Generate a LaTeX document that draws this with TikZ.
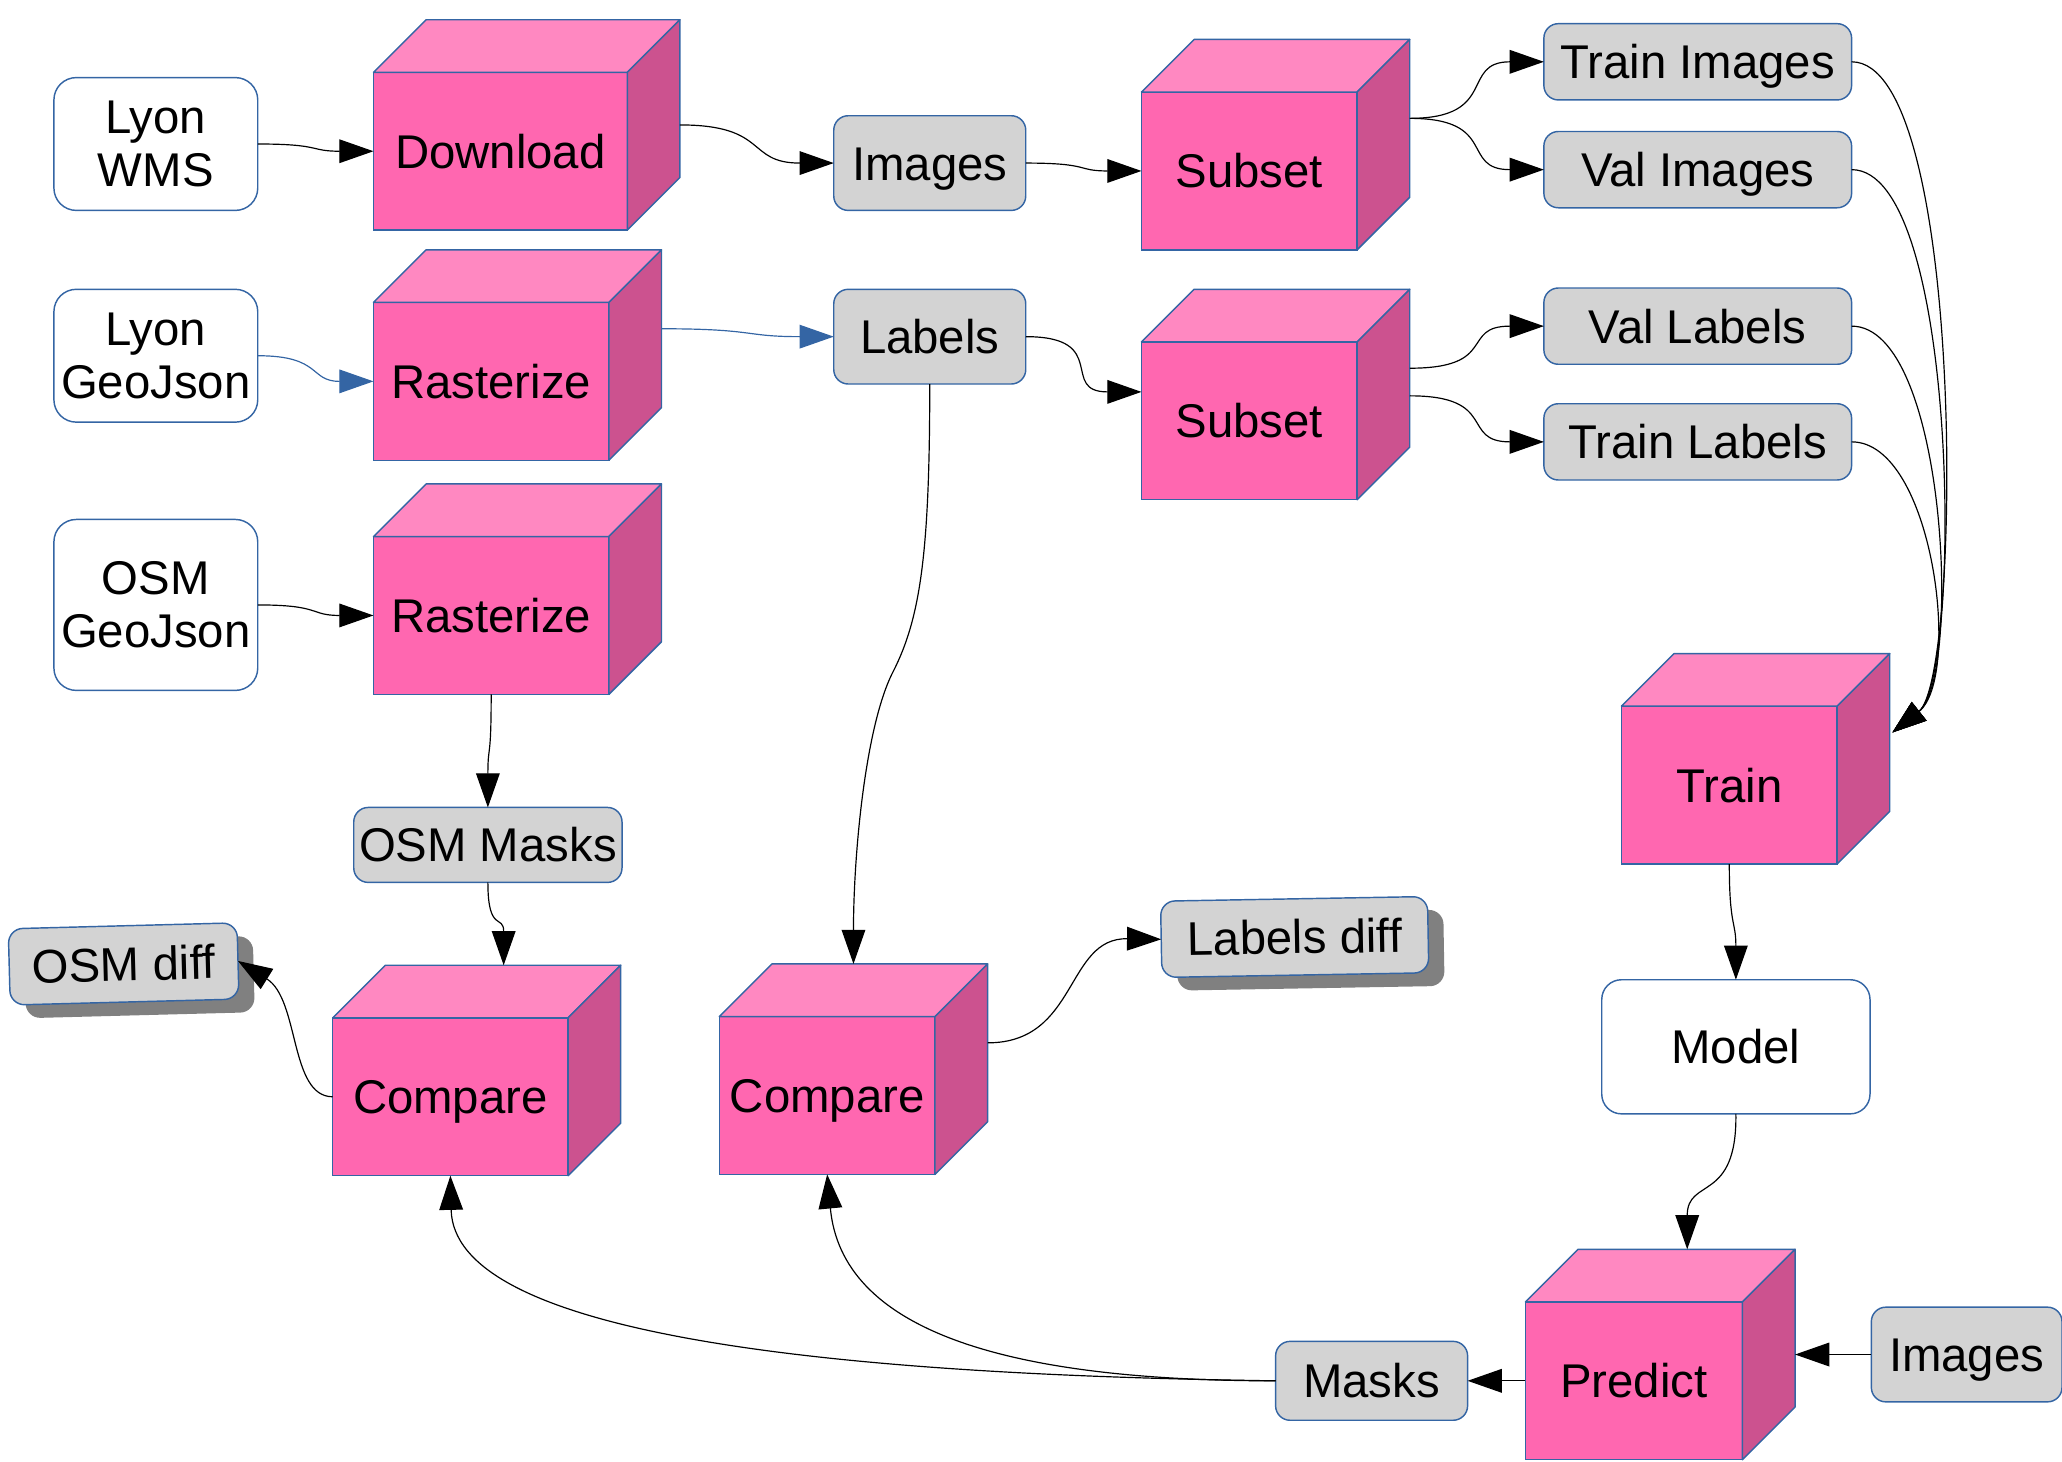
\documentclass[tikz,border=0pt]{standalone}
\usepackage{fontspec}
\setmainfont{Liberation Sans}
\usetikzlibrary{calc,arrows.meta,shadows}
\definecolor{cubefront}{HTML}{FF67B0}
\definecolor{cubetop}{HTML}{FF88C1}
\definecolor{cubeside}{HTML}{CC528F}
\definecolor{edgeblue}{HTML}{3465A4}
\definecolor{boxgray}{HTML}{D3D3D3}
\definecolor{shadowgray}{HTML}{808080}
\tikzset{
  base/.style={font=\fontsize{36}{40.5}\selectfont, inner sep=0pt, outer sep=0pt,
    align=center, line width=1.1pt, draw=edgeblue},
  oneline/.style={text height=25.8pt, text depth=0pt},
  cubebox/.style={base, oneline, fill=cubefront, minimum height=120pt},
  inbox/.style={base, fill=white, rounded corners=17pt},
  databox/.style={base, oneline, fill=boxgray, rounded corners=11pt},
  shadowed/.style={drop shadow={shadow xshift=12pt, shadow yshift=-10pt, fill=shadowgray, opacity=1}},
  conn/.style={line width=0.9pt, -{Triangle[length=26pt,width=18pt]}},
  bconn/.style={conn, draw=edgeblue},
  face/.style={draw=edgeblue, line width=1.1pt, line join=round},
}
\newcommand{\cubefaces}[1]{%
  \filldraw[face, fill=cubetop] (#1.north west) -- ++(40pt,40pt) -- ($(#1.north east)+(40pt,40pt)$) -- (#1.north east) -- cycle;
  \filldraw[face, fill=cubeside] (#1.north east) -- ++(40pt,40pt) -- ($(#1.south east)+(40pt,40pt)$) -- (#1.south east) -- cycle;}
\begin{document}
\begin{tikzpicture}[x=1pt, y=-1pt]
\useasboundingbox (0,0) rectangle (1568,1111);

% input boxes
\node[inbox, minimum width=155pt, minimum height=101pt] (wms) at (118.5,109.5) {Lyon\\WMS};
\node[inbox, minimum width=155pt, minimum height=101pt] (lgj) at (118.5,270.5) {Lyon\\GeoJson};
\node[inbox, minimum width=155pt, minimum height=130pt] (ogj) at (118.5,460) {OSM\\GeoJson};
\node[inbox, oneline, minimum width=204pt, minimum height=102pt, rounded corners=15pt] (model) at (1320,796) {Model};

% cubes
\node[cubebox, minimum width=193pt] (dl) at (380.5,115) {Download};
\node[cubebox, minimum width=179pt] (ras1) at (373.5,290) {Rasterize};
\node[cubebox, minimum width=179pt] (ras2) at (373.5,468) {Rasterize};
\node[cubebox, minimum width=164pt] (sub1) at (950,130) {Subset};
\node[cubebox, minimum width=164pt] (sub2) at (950,320) {Subset};
\node[cubebox, minimum width=164pt] (train) at (1315,597) {Train};
\node[cubebox, minimum width=179pt] (cmp1) at (342.5,834) {Compare};
\node[cubebox, minimum width=164pt] (cmp2) at (629,833) {Compare};
\node[cubebox, minimum width=165pt] (pred) at (1242.5,1050) {Predict};
\foreach \c in {dl,ras1,ras2,sub1,sub2,train,cmp1,cmp2,pred}{\cubefaces{\c}}

% data boxes
\node[databox, minimum width=146pt, minimum height=72pt] (img) at (707,124) {Images};
\node[databox, minimum width=146pt, minimum height=72pt] (lab) at (707,256) {Labels};
\node[databox, minimum width=234pt, minimum height=58pt] (ti) at (1291,47) {Train Images};
\node[databox, minimum width=234pt, minimum height=58pt] (vi) at (1291,129) {Val Images};
\node[databox, minimum width=234pt, minimum height=58pt] (vl) at (1291,248) {Val Labels};
\node[databox, minimum width=234pt, minimum height=58pt] (tl) at (1291,336) {Train Labels};
\node[databox, minimum width=204pt, minimum height=57pt] (om) at (371,642.5) {OSM Masks};
\node[databox, minimum width=146pt, minimum height=60pt] (masks) at (1043,1050) {Masks};
\node[databox, minimum width=145pt, minimum height=72pt] (img2) at (1495.5,1030) {Images};
\node[databox, shadowed, rotate=1.5, minimum width=174pt, minimum height=58pt] (od) at (94,733) {OSM diff};
\node[databox, shadowed, rotate=1, minimum width=203pt, minimum height=58pt] (ld) at (984.5,712.5) {Labels diff};

% connection points on cube faces
\coordinate (dlout) at ($(dl.north east)+(40pt,-40pt)$);
\coordinate (r1out) at ($(ras1.north east)+(40pt,-20pt)$);
\coordinate (s2in) at ($(sub2.west)+(0pt,22pt)$);
\coordinate (s1out) at ($(sub1.north east)+(40pt,-20pt)$);
\coordinate (s2a) at ($(sub2.north east)+(40pt,-20pt)$);
\coordinate (s2b) at ($(sub2.north east)+(40pt,-41pt)$);
\coordinate (trin) at ($(train.north east)+(42pt,-20pt)$);
\coordinate (c1in) at ($(cmp1.north west)+(130pt,40pt)$);
\coordinate (c2in) at ($(cmp2.north west)+(102pt,40pt)$);
\coordinate (c2out) at ($(cmp2.east)+(40pt,40pt)$);
\coordinate (pin) at ($(pred.north west)+(123pt,40pt)$);
\coordinate (pin2) at ($(pred.east)+(40pt,20pt)$);

% connectors
\draw[conn] (wms.east) .. controls (245,109.5) and (235,115) .. (dl.west);
\draw[bconn] (lgj.east) .. controls (245,270.5) and (235,290) .. (ras1.west);
\draw[conn] (ogj.east) .. controls (245,460) and (235,468) .. (ras2.west);
\draw[conn] (dlout) .. controls (585,95) and (567,124) .. (img.west);
\draw[bconn] (r1out) .. controls (575,250) and (565,256) .. (lab.west);
\draw[conn] (img.east) .. controls (830,124) and (818,130) .. (sub1.west);
\draw[conn] (lab.east) .. controls (845,256) and (805,298) .. (s2in);
\draw[conn] (s1out) .. controls (1140,90) and (1110,47) .. (ti.west);
\draw[conn] (s1out) .. controls (1140,90) and (1110,129) .. (vi.west);
\draw[conn] (s2a) .. controls (1140,280) and (1110,248) .. (vl.west);
\draw[conn] (s2b) .. controls (1140,301) and (1110,336) .. (tl.west);
\draw[conn] (ti.east) .. controls (1495,47) and (1492,515) .. (trin);
\draw[conn] (vi.east) .. controls (1490,129) and (1492,515) .. (trin);
\draw[conn] (vl.east) .. controls (1480,248) and (1492,515) .. (trin);
\draw[conn] (tl.east) .. controls (1470,336) and (1492,515) .. (trin);
\draw[conn] (ras2.south) .. controls (373.5,580) and (371,565) .. (om.north);
\draw[conn] (om.south) .. controls (371,710) and (383,695) .. (c1in);
\draw[conn] (lab.south) .. controls (707,420) and (700,470) .. (679,511) .. controls (658,552) and (649,650) .. (c2in);
\draw[conn] (cmp1.west) .. controls (220,834) and (228,760) .. (od.east);
\draw[conn] (c2out) .. controls (820,793) and (810,713) .. (ld.west);
\draw[conn] (train.south) .. controls (1315,705) and (1320,700) .. (model.north);
\draw[conn] (model.south) .. controls (1321,915) and (1283,895) .. (pin);
\draw[conn] (img2.west) -- (pin2);
\draw[conn] (pred.west) -- (masks.east);
\draw[conn] (masks.west) .. controls (760,1050) and (640,1010) .. (cmp2.south);
\draw[conn] (masks.west) .. controls (600,1045) and (345,1010) .. (cmp1.south);
\end{tikzpicture}
\end{document}
